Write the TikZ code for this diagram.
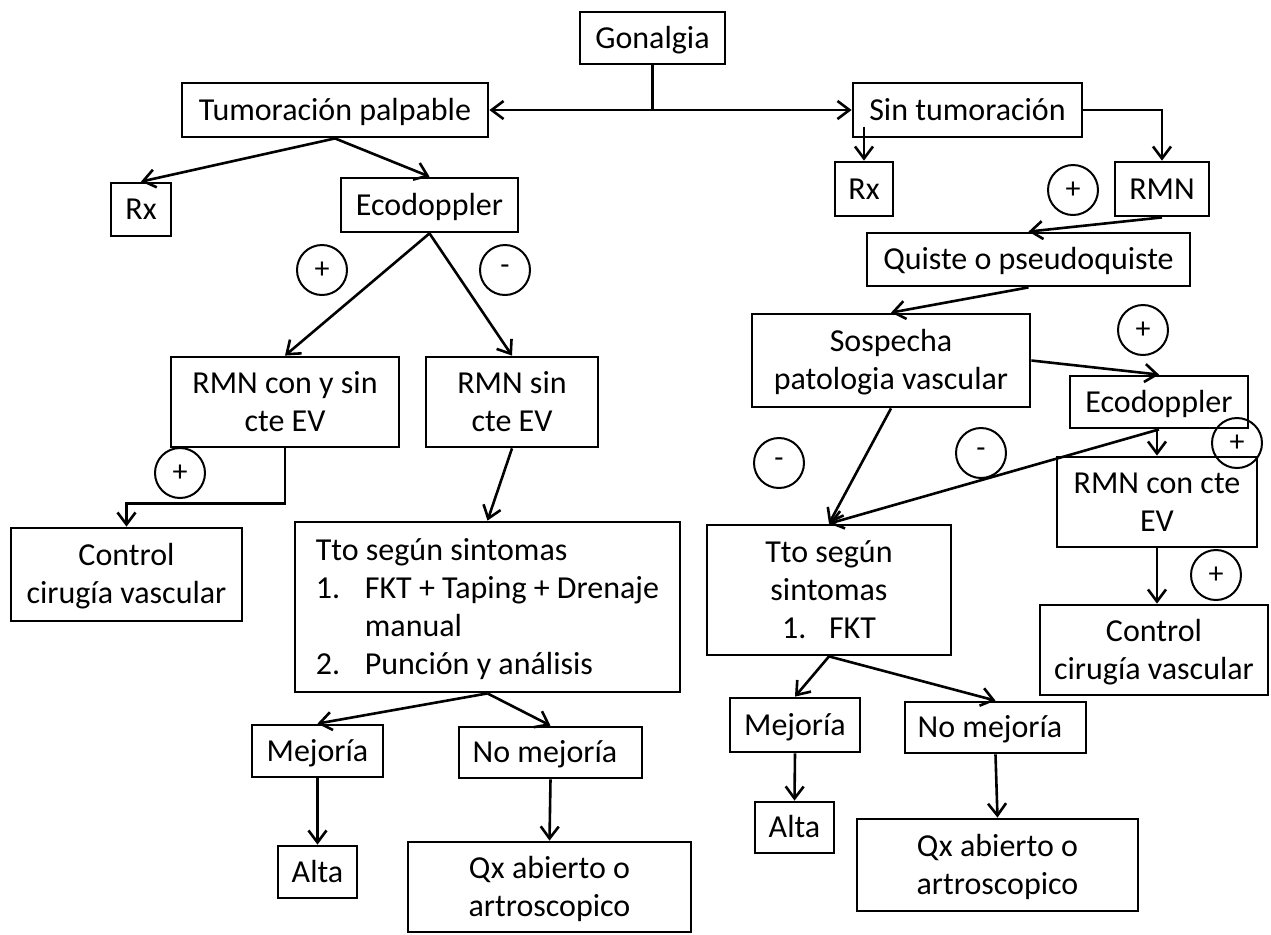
\documentclass[tikz,border=0pt]{standalone}
\usepackage{fontspec}
\setmainfont{Carlito}
\usetikzlibrary{arrows.meta}
\newcommand\mytopst{\rule{0pt}{13pt}}
\newcommand\mybotst{\rule[-2.7pt]{0pt}{2.7pt}}
\begin{document}
\begin{tikzpicture}[x=0.5pt,y=-0.5pt,
  bx/.style={draw, line width=1.4pt, inner sep=2pt, align=center, font=\fontsize{16}{19}\selectfont},
  one/.style={text height=13pt, text depth=2.7pt},
  sg/.style={draw, circle, line width=1pt, minimum size=25pt, inner sep=0pt, font=\fontsize{15}{15}\selectfont},
  arr/.style={line width=1.3pt, -{Straight Barb[length=6pt,width=9pt]}},
  ln/.style={line width=1.3pt}]
\useasboundingbox (0,0) rectangle (1271,934);
% ---- boxes ----
\node[bx, one, minimum width=72.5pt, minimum height=26pt] (gon) at (652.5,38) {Gonalgia};
\node[bx, one, minimum width=153pt, minimum height=27pt] (tum) at (335,110) {Tumoración palpable};
\node[bx, one, minimum width=114.5pt, minimum height=27pt] (sin) at (967.5,110) {Sin tumoración};
\node[bx, one, minimum width=30pt, minimum height=26.5pt] (rx1) at (141,209.5) {Rx};
\node[bx, one, minimum width=88.5pt, minimum height=27pt] (eco1) at (429.5,205) {Ecodoppler};
\node[bx, minimum width=114pt, minimum height=45pt] (rmncs) at (285,402) {\mytopst RMN con y sin\\cte EV\mybotst};
\node[bx, minimum width=86pt, minimum height=45pt] (rmns) at (512,402) {\mytopst RMN sin\\cte EV\mybotst};
\node[bx, minimum width=115.5pt, minimum height=46.5pt] (ctrl1) at (126.5,574.5) {\mytopst Control\\cirugía vascular\mybotst};
\node[bx, minimum width=192.5pt, minimum height=85pt, align=left] (tto1) at (487.5,607)
  {\mytopst Tto según sintomas\\\makebox[24.5pt][l]{1.}FKT + Taping + Drenaje\\\hspace*{24.5pt}manual\\\makebox[24.5pt][l]{2.}Punción y análisis\mybotst};
\node[bx, one, minimum width=65.5pt, minimum height=26pt] (mej1) at (317.5,751) {Mejoría};
\node[bx, one, minimum width=91.5pt, minimum height=25.5pt] (nomej1) at (550.5,752.5) {No mejoría\hspace*{5.5pt}};
\node[bx, one, minimum width=39.5pt, minimum height=26pt] (alta1) at (317.5,872) {Alta};
\node[bx, minimum width=141.5pt, minimum height=45pt] (qx1) at (549.5,887) {\mytopst Qx abierto o\\artroscopico\mybotst};
\node[bx, one, minimum width=29pt, minimum height=27pt] (rx2) at (864,189) {Rx};
\node[bx, one, minimum width=47pt, minimum height=27pt] (rmn2) at (1162,189) {RMN};
\node[bx, one, minimum width=161.5pt, minimum height=26.5pt] (quis) at (1028.5,259.5) {Quiste o pseudoquiste};
\node[bx, minimum width=139pt, minimum height=46.5pt] (sosp) at (891,360.5) {\mytopst Sospecha\\patologia vascular\mybotst};
\node[bx, one, minimum width=89pt, minimum height=26pt] (eco2) at (1159,402) {Ecodoppler};
\node[bx, minimum width=100pt, minimum height=45pt] (rmnc) at (1157,502) {\mytopst RMN con cte\\EV\mybotst};
\node[bx, minimum width=114pt, minimum height=45pt] (ctrl2) at (1154,650) {\mytopst Control\\cirugía vascular\mybotst};
\node[bx, minimum width=122pt, minimum height=65pt] (tto2) at (829,590) {\mytopst Tto según\\sintomas\\\makebox[23.5pt][l]{1.}FKT\mybotst};
\node[bx, one, minimum width=65pt, minimum height=27pt] (mej2) at (795,725) {Mejoría};
\node[bx, one, minimum width=90.5pt, minimum height=25.5pt] (nomej2) at (995.5,727.5) {No mejoría\hspace*{5.5pt}};
\node[bx, one, minimum width=39.5pt, minimum height=25.5pt] (alta2) at (794.5,827.5) {Alta};
\node[bx, minimum width=140.5pt, minimum height=46pt] (qx2) at (997.5,865) {\mytopst Qx abierto o\\artroscopico\mybotst};
% ---- sign circles ----
\node[sg] (s1) at (322,270) {+};
\node[sg] (s2) at (505,270) {-};
\node[sg] (s3) at (180,473) {+};
\node[sg] (s4) at (1073,190) {+};
\node[sg] (s5) at (1143,330) {+};
\node[sg] (s6) at (779,463) {-};
\node[sg] (s7) at (981,453) {-};
\node[sg] (s8) at (1237,443) {+};
\node[sg] (s9) at (1216,575) {+};
% ---- connectors ----
\coordinate (j) at (652.5,110);
\draw[ln] (gon.south) -- (j);
\draw[arr] (j) -- (tum.east);
\draw[arr] (j) -- (sin.west);
\draw[arr] (tum.south) -- (rx1.north);
\draw[arr] (tum.south) -- (eco1.north);
\draw[arr] (eco1.south) -- (rmns.north);
\draw[arr] (eco1.south) -- (rmncs.north);
\draw[arr] (rmncs.south) -- ++(0,55) -| (ctrl1.north);
\draw[arr] (rmns.south) -- (tto1.north);
\draw[arr] (tto1.south) -- (mej1.north);
\draw[arr] (tto1.south) -- (nomej1.north);
\draw[arr] (mej1.south) -- (alta1.north);
\draw[arr] (nomej1.south) -- (qx1.north);
\draw[arr] ([yshift=17pt]rx2.north) -- (rx2.north);
\draw[arr] (sin.east) -| (rmn2.north);
\draw[arr] (rmn2.south) -- (quis.north);
\draw[arr] (quis.south) -- (sosp.north);
\draw[arr] (sosp.east) -- (eco2.north);
\draw[arr] (sosp.south) -- (tto2.north);
\draw[arr] (eco2.south) -- (tto2.north);
\draw[arr] (rmnc.north |- eco2.south) -- (rmnc.north);
\draw[arr] (rmnc.south) -- (rmnc.south |- ctrl2.north);
\draw[arr] (tto2.south) -- (mej2.north);
\draw[arr] (tto2.south) -- (nomej2.north);
\draw[arr] (mej2.south) -- (alta2.north);
\draw[arr] (nomej2.south) -- (qx2.north);
\end{tikzpicture}
\end{document}
